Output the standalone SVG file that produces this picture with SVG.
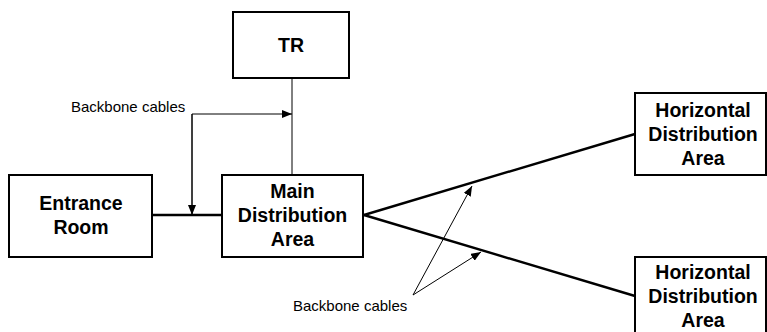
<svg xmlns="http://www.w3.org/2000/svg" width="767" height="332" viewBox="0 0 767 332">
<style>
.box{fill:#fff;stroke:#000;stroke-width:2}
.lbl{font-family:"Liberation Sans",Arial,sans-serif;font-weight:bold;font-size:19.5px;text-anchor:middle;fill:#000}
.note{font-family:"Liberation Sans",Arial,sans-serif;font-size:15px;fill:#000}
.thick{stroke:#000;stroke-width:2.4;fill:none}
.thin{stroke:#000;stroke-width:1;fill:none}
</style>
<defs>
<marker id="ah" markerUnits="userSpaceOnUse" markerWidth="10" markerHeight="8" refX="10" refY="4" orient="auto">
<path d="M0,0 L10,4 L0,8 z" fill="#000"/>
</marker>
</defs>
<rect width="767" height="332" fill="#fff"/>
<g id="connectors">
<line class="thin" x1="292" y1="78" x2="292" y2="175"/>
<line class="thick" x1="152" y1="215" x2="222" y2="215"/>
<line class="thick" x1="364" y1="215" x2="635" y2="134"/>
<line class="thick" x1="364" y1="215" x2="635" y2="296"/>
<polyline class="thin" points="192,215 192,114 292,114" marker-end="url(#ah)"/>
<line class="thin" x1="192" y1="114" x2="192" y2="215" marker-end="url(#ah)"/>
<line class="thin" x1="413" y1="295" x2="472" y2="186" marker-end="url(#ah)"/>
<line class="thin" x1="413" y1="295" x2="481" y2="252" marker-end="url(#ah)"/>
<text class="note" x="71" y="112">Backbone cables</text>
<text class="note" x="293" y="311">Backbone cables</text>
</g>
<g id="tr">
<rect class="box" x="233" y="12" width="116" height="66"/>
<text class="lbl" x="291" y="52">TR</text>
</g>
<g id="entrance-room">
<rect class="box" x="9" y="175" width="143" height="82"/>
<text class="lbl" x="81" y="210">Entrance</text>
<text class="lbl" x="81" y="234">Room</text>
</g>
<g id="mda">
<rect class="box" x="222" y="175" width="141" height="82"/>
<text class="lbl" x="292.5" y="198">Main</text>
<text class="lbl" x="292.5" y="222">Distribution</text>
<text class="lbl" x="292.5" y="246">Area</text>
</g>
<g id="hda-top">
<rect class="box" x="635" y="93" width="131" height="82"/>
<text class="lbl" x="703" y="117">Horizontal</text>
<text class="lbl" x="703" y="141">Distribution</text>
<text class="lbl" x="703" y="165">Area</text>
</g>
<g id="hda-bottom">
<rect class="box" x="635" y="257" width="131" height="82"/>
<text class="lbl" x="703" y="279">Horizontal</text>
<text class="lbl" x="703" y="303">Distribution</text>
<text class="lbl" x="703" y="327">Area</text>
</g>
</svg>
